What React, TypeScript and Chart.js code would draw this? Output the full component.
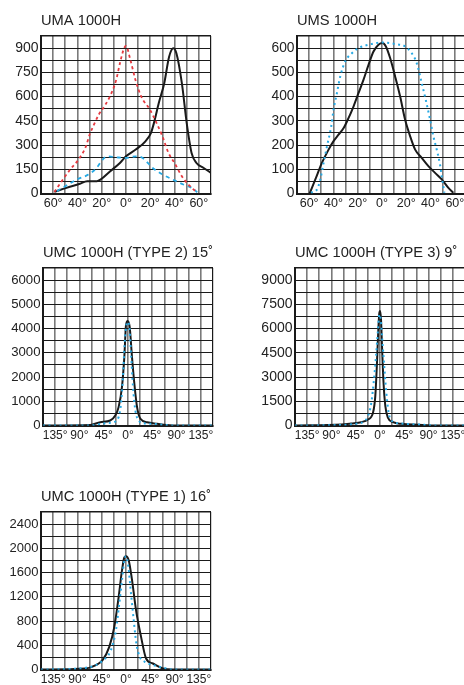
import React, { useEffect, useRef } from 'react';
import { Chart, registerables } from 'chart.js';

Chart.register(...registerables);

const FONT = "'Liberation Sans', Arial, Helvetica, sans-serif";
const RED = '#e53a40';
const BLUE = '#27a9e3';
const BLACK = '#1a1a1a';
const GRID_V = '#7a7a7a';
const TEXT = '#222222';

// ---------- UMA 1000H ----------
const umaBlackX = [-59, -49, -38, -32, -24, -21, -13, -5, 0, 8, 16, 20.5, 23, 27, 31.5, 35.5, 39, 41.5, 46, 50, 54, 58, 64, 70];
const umaBlackY = [10, 35, 60, 76, 76, 86, 138, 189, 230, 272, 323, 374, 436, 560, 683, 847, 899, 868, 683, 436, 251, 189, 158, 128];
const umaRedX = [-59, -53.5, -46, -38.7, -33, -30, -26.4, -22.5, -17, -13.2, -9.6, -7.7, -5, -1.6, 0, 3.6, 7.8, 12.5, 19.8, 25.2, 30, 35, 40, 46, 52.7, 58.2];
const umaRedY = [10, 70, 148, 214, 292, 364, 426, 487, 549, 601, 666, 714, 806, 899, 913, 827, 703, 601, 518, 436, 354, 251, 189, 107, 45, 8];
const umaBlueX = [-57, -50, -40.6, -31, -24.2, -19.2, -15.4, -7.7, 0, 8.2, 13.7, 22, 30.3, 40.3, 47.2, 54.1, 58.7];
const umaBlueY = [14, 45, 86, 117, 158, 210, 230, 224, 220, 230, 220, 158, 117, 80, 56, 35, 8];

// ---------- UMS 1000H ----------
const umsBlackX = [-59.6, -54.9, -49.5, -44, -39.9, -35.8, -31.6, -27.5, -23.4, -19.3, -15.2, -11.1, -7, -2.9, 0.4, 3.2, 6.7, 10.8, 14.9, 19, 23.2, 27.3, 32.7, 38.2, 43.7, 49.2, 54.7, 58.8];
const umsBlackY = [0, 58, 126, 181, 216, 243, 270, 312, 360, 415, 470, 531, 586, 614, 621, 607, 559, 483, 401, 305, 236, 181, 147, 113, 85, 58, 23, 3];
const umsBlueX = [-58.5, -53.6, -50.8, -48.1, -45.3, -41.8, -39.9, -37.1, -34.4, -30.3, -24.8, -19.3, -11.1, 0, 10.8, 19, 24.5, 28.6, 32.7, 36, 39.6, 42.3, 45.1, 47.8, 49.2, 50.5, 51.4];
const umsBlueY = [3, 16, 58, 126, 195, 277, 346, 415, 483, 545, 579, 600, 614, 623, 617, 607, 579, 538, 456, 387, 305, 236, 181, 119, 71, 30, 3];

// ---------- UMC 1000H (TYPE 2) 15˚ ----------
const umc2BlackX = [-157.5, -70, -51.5, -33, -23.6, -17.4, -11.2, -6.8, -3.7, -0.6, 3.1, 7.4, 11.8, 16.8, 23, 35.4, 54, 66.4, 85, 157.5];
const umc2BlackY = [0, 20, 138, 207, 414, 759, 1586, 2828, 4138, 4317, 4069, 2828, 1724, 759, 276, 138, 69, 28, 0, 0];
const umc2BlueX = [-157.5, -70, -57.7, -39.1, -26.7, -17.4, -13, -9.3, -6.2, -3.1, -0.6, 2.5, 5.6, 9.3, 13.7, 19.9, 29.2, 47.8, 66.4, 85, 157.5];
const umc2BlueY = [0, 0, 41, 97, 138, 345, 897, 2000, 3379, 4138, 4276, 4069, 2966, 1586, 621, 207, 97, 69, 28, 0, 0];

// ---------- UMC 1000H (TYPE 3) 9˚ ----------
const umc3BlackX = [-157.5, -72, -53.4, -34.8, -22.3, -13, -8.7, -5.6, -3.1, -1.2, 0, 1.9, 3.7, 6.2, 9.9, 14.9, 24.2, 39.7, 70.8, 95.6, 157.5];
const umc3BlackY = [0, 60, 124, 206, 372, 784, 1817, 3881, 5945, 6978, 7081, 6565, 4913, 2849, 1197, 475, 206, 103, 41, 0, 0];
const umc3BlueX = [-157.5, -90.6, -41, -28.6, -22.3, -16.1, -11.2, -7.4, -3.7, -1.2, 0.6, 3.7, 7.4, 11.2, 16.1, 22.3, 39.7, 70.8, 108, 157.5];
const umc3BlueY = [0, 20, 124, 268, 578, 1404, 2849, 4294, 5945, 6874, 6771, 5533, 3881, 2230, 784, 268, 124, 62, 0, 0];

// ---------- UMC 1000H (TYPE 1) 16˚ ----------
const umc1BlackX = [-157.5, -74.5, -55.9, -43.5, -31, -21.7, -13.6, -7.4, -3.1, 0, 5, 11.2, 18.6, 27.9, 37.2, 49.7, 68.3, 87, 157.5];
const umc1BlackY = [0, 17, 72, 154, 374, 704, 1200, 1640, 1849, 1871, 1805, 1475, 980, 539, 182, 99, 17, 0, 0];
const umc1BlueX = [-157.5, -86.9, -55.9, -43.5, -28, -18.6, -12.4, -7.4, -3.1, 0, 4.3, 9.3, 14.3, 19.2, 25.5, 34.8, 50.4, 75.2, 87, 157.5];
const umc1BlueY = [0, 17, 72, 143, 319, 649, 1090, 1475, 1805, 1871, 1695, 1255, 815, 429, 209, 127, 72, 17, 0, 0];

// axis definitions
const narrowAngles = { min: -70, max: 70, step: 10, labelEvery: 20, labelMax: 60 };
const wideAngles = { min: -157.5, max: 157.5, step: 22.5, labelEvery: 45, labelMax: 135 };

type Series = { x: number[]; y: number[]; color: string; dash: number[]; width: number };
type Props = {
  left: number;
  top: number;
  title: string;
  angles: { min: number; max: number; step: number; labelEvery: number; labelMax: number };
  yMax: number;
  yStep: number;
  yLabelEvery: number;
  xFontSize: number;
  yFontSize: number;
  series: Series[];
};

const CW = 240;
const CH = 220;

function PhotoChart(props: Props) {
  const ref = useRef<HTMLCanvasElement>(null);
  useEffect(() => {
    const { angles, yMax, yStep, yLabelEvery, series, title, xFontSize, yFontSize } = props;
    const nearMultiple = (v: number, m: number) => Math.abs(Math.round(v / m) * m - v) < 1e-6;
    const chart = new Chart(ref.current as HTMLCanvasElement, {
      type: 'line',
      data: {
        datasets: series.map((s) => ({
          data: s.x.map((x, i) => ({ x, y: s.y[i] })),
          borderColor: s.color,
          borderDash: s.dash,
          borderWidth: s.width,
          pointRadius: 0,
          fill: false,
          cubicInterpolationMode: 'monotone' as const,
        })),
      },
      options: {
        animation: false,
        responsive: false,
        devicePixelRatio: 1,
        layout: { padding: { left: 0, right: CW - 44 - 170, top: 0, bottom: 0 } },
        plugins: {
          legend: { display: false },
          tooltip: { enabled: false },
          title: {
            display: true,
            text: title,
            align: 'start',
            fullSize: false,
            color: TEXT,
            font: { family: FONT, size: 14.7, weight: 'normal', lineHeight: 1 },
            padding: { top: 15.5, bottom: 7.8 },
          },
        },
        scales: {
          x: {
            type: 'linear',
            min: angles.min,
            max: angles.max,
            afterFit: (s: any) => {
              s.height = CH - 38 - 157.5;
            },
            ticks: {
              stepSize: angles.step,
              autoSkip: false,
              maxRotation: 0,
              minRotation: 0,
              maxTicksLimit: 100,
              padding: 3,
              color: TEXT,
              font: { family: FONT, size: xFontSize },
              callback: (v: any) => {
                const n = Number(v);
                if (nearMultiple(n, angles.labelEvery) && Math.abs(n) <= angles.labelMax + 1e-6) {
                  return Math.round(Math.abs(n)) + '°';
                }
                return '';
              },
            },
            grid: {
              drawTicks: false,
              color: (c: any) => (c.index === 14 ? BLACK : GRID_V),
              lineWidth: (c: any) => (c.index === 14 ? 1.2 : 1.6),
            },
            border: { color: BLACK, width: 2 },
          },
          y: {
            type: 'linear',
            min: 0,
            max: yMax,
            afterFit: (s: any) => {
              s.width = 44;
            },
            ticks: {
              stepSize: yStep,
              autoSkip: false,
              maxTicksLimit: 100,
              padding: 2.5,
              color: TEXT,
              font: { family: FONT, size: yFontSize },
              callback: (v: any) => {
                const n = Number(v);
                return nearMultiple(n, yLabelEvery) ? String(Math.round(n)) : '';
              },
            },
            grid: {
              drawTicks: false,
              color: BLACK,
              lineWidth: (c: any) => (c.index === 13 ? 1.4 : 1),
            },
            border: { color: BLACK, width: 2 },
          },
        },
      },
    } as any);
    return () => chart.destroy();
  }, []);
  return (
    <div style={{ position: 'absolute', left: props.left, top: props.top, width: CW, height: CH }}>
      <canvas ref={ref} width={CW} height={CH} style={{ display: 'block' }} />
    </div>
  );
}

export default function App() {
  return (
    <div
      style={{
        position: 'fixed',
        left: 0,
        top: 0,
        width: 464,
        height: 685,
        overflow: 'hidden',
        background: '#ffffff',
      }}
    >
      <PhotoChart
        left={-3}
        top={-2}
        title="UMA 1000H"
        angles={narrowAngles}
        yMax={975}
        yStep={75}
        yLabelEvery={150}
        xFontSize={12.5}
        yFontSize={14}
        series={[
          { x: umaRedX, y: umaRedY, color: RED, dash: [3, 3], width: 1.8 },
          { x: umaBlueX, y: umaBlueY, color: BLUE, dash: [4, 4], width: 1.8 },
          { x: umaBlackX, y: umaBlackY, color: BLACK, dash: [], width: 2 },
        ]}
      />
      <PhotoChart
        left={253}
        top={-2}
        title="UMS 1000H"
        angles={narrowAngles}
        yMax={650}
        yStep={50}
        yLabelEvery={100}
        xFontSize={12.5}
        yFontSize={13.8}
        series={[
          { x: umsBlueX, y: umsBlueY, color: BLUE, dash: [2, 3.5], width: 2 },
          { x: umsBlackX, y: umsBlackY, color: BLACK, dash: [], width: 2 },
        ]}
      />
      <PhotoChart
        left={-1}
        top={230}
        title="UMC 1000H (TYPE 2) 15˚"
        angles={wideAngles}
        yMax={6500}
        yStep={500}
        yLabelEvery={1000}
        xFontSize={12}
        yFontSize={13.2}
        series={[
          { x: umc2BlueX, y: umc2BlueY, color: BLUE, dash: [2, 3.5], width: 2 },
          { x: umc2BlackX, y: umc2BlackY, color: BLACK, dash: [], width: 2 },
        ]}
      />
      <PhotoChart
        left={251}
        top={230}
        title="UMC 1000H (TYPE 3) 9˚"
        angles={wideAngles}
        yMax={9750}
        yStep={750}
        yLabelEvery={1500}
        xFontSize={12}
        yFontSize={14}
        series={[
          { x: umc3BlueX, y: umc3BlueY, color: BLUE, dash: [2, 3.5], width: 2 },
          { x: umc3BlackX, y: umc3BlackY, color: BLACK, dash: [], width: 2 },
        ]}
      />
      <PhotoChart
        left={-3}
        top={474}
        title="UMC 1000H (TYPE 1) 16˚"
        angles={wideAngles}
        yMax={2600}
        yStep={200}
        yLabelEvery={400}
        xFontSize={12}
        yFontSize={13}
        series={[
          { x: umc1BlueX, y: umc1BlueY, color: BLUE, dash: [2, 3.5], width: 2 },
          { x: umc1BlackX, y: umc1BlackY, color: BLACK, dash: [], width: 2 },
        ]}
      />
    </div>
  );
}
